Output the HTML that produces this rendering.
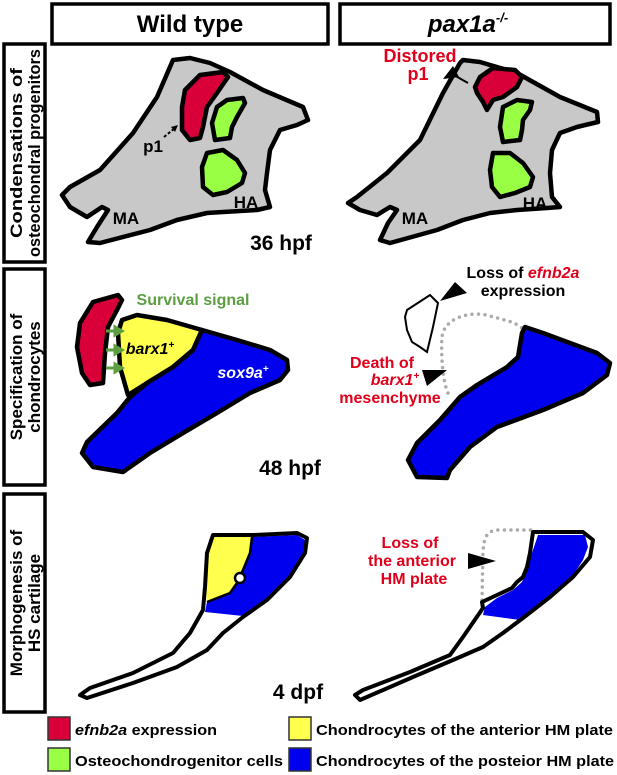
<!DOCTYPE html>
<html><head><meta charset="utf-8"><style>
html,body{margin:0;padding:0;background:#fff}
svg{display:block}
text{font-family:"Liberation Sans",Arial,sans-serif;font-weight:bold}
</style></head><body>
<svg width="617" height="775" viewBox="0 0 617 775" xmlns="http://www.w3.org/2000/svg">
<g fill="none" stroke="#000" stroke-width="3.5">
<rect x="52" y="4" width="276" height="40"/>
<rect x="340" y="4" width="270" height="40"/>
<rect x="4" y="44" width="41" height="218"/>
<rect x="4" y="269" width="41" height="216"/>
<rect x="4" y="494" width="41" height="218"/>
</g>
<text x="190" y="32" font-size="24" text-anchor="middle">Wild type</text>
<text x="468" y="32" font-size="24" text-anchor="middle" font-style="italic" font-weight="normal">pax1a<tspan font-size="13" dy="-10">-/-</tspan></text>
<text transform="translate(22,153) rotate(-90)" font-size="17" text-anchor="middle" textLength="170" lengthAdjust="spacingAndGlyphs">Condensations of</text>
<text transform="translate(40,153) rotate(-90)" font-size="17" text-anchor="middle" textLength="208" lengthAdjust="spacingAndGlyphs">osteochondral progenitors</text>
<text transform="translate(22,377) rotate(-90)" font-size="17" text-anchor="middle">Specification of</text>
<text transform="translate(40,377) rotate(-90)" font-size="17" text-anchor="middle">chondrocytes</text>
<text transform="translate(22,603) rotate(-90)" font-size="17" text-anchor="middle">Morphogenesis of</text>
<text transform="translate(40,603) rotate(-90)" font-size="17" text-anchor="middle">HS cartilage</text>

<!-- Row 1 WT -->
<g stroke="#000" stroke-width="4.5" stroke-linejoin="round">
<polygon fill="#c8c8c8" points="173,60 190,58 210,63 230,72 263,90 303,107 308,120 297,125 280,130 270,150 267,173 265,190 270,207 257,210 223,212 207,213 177,220 150,230 100,243 88,242 97,227 108,210 102,207 87,217 70,207 62,195 70,187 100,170 133,133 157,97"/>
<polygon fill="#d9003a" points="185,90 200,75 223,72 228,77 217,93 207,107 203,127 200,138 190,140 182,130 182,107"/>
<polygon fill="#99ff44" points="217,107 227,100 243,98 245,103 237,117 232,127 230,138 215,140 212,123"/>
<polygon fill="#99ff44" points="207,153 223,150 237,160 245,173 242,183 227,192 213,195 203,187 202,167"/>
</g>
<line x1="164" y1="137" x2="175" y2="128" stroke="#000" stroke-width="2" stroke-dasharray="3 2"/>
<polygon points="178,125 171,127 175,132" fill="#000"/>
<text x="153" y="152" font-size="17" text-anchor="middle" font-weight="normal">p1</text>
<text x="126" y="224" font-size="17" text-anchor="middle">MA</text>
<text x="246" y="208" font-size="17" text-anchor="middle">HA</text>
<text x="281" y="250" font-size="21" text-anchor="middle">36 hpf</text>

<!-- Row 1 mutant -->
<g stroke="#000" stroke-width="4.5" stroke-linejoin="round">
<polygon fill="#c8c8c8" points="463,60 480,62 517,73 560,97 597,112 598,122 577,127 560,133 552,150 550,173 552,197 560,207 547,208 517,210 490,213 463,220 437,230 390,243 380,240 388,223 397,210 390,207 377,215 360,210 348,203 357,197 387,173 420,140 443,93 460,63"/>
<polygon fill="#d9003a" points="480,77 493,68 515,70 522,77 517,87 503,97 493,100 487,110 483,102 477,93 475,87"/>
<polygon fill="#99ff44" points="503,107 517,100 532,102 530,110 523,120 522,130 520,140 503,142 500,127"/>
<polygon fill="#99ff44" points="493,153 510,153 523,163 533,177 530,187 515,193 500,197 492,187 490,170"/>
</g>
<polygon points="443,79 453,66 459,77" fill="#000"/>
<line x1="452" y1="74" x2="468" y2="83" stroke="#000" stroke-width="2"/>
<text x="420" y="62" font-size="18" text-anchor="middle" fill="#e0001b">Distored</text>
<text x="418" y="80" font-size="18" text-anchor="middle" fill="#e0001b">p1</text>
<text x="415" y="224" font-size="17" text-anchor="middle">MA</text>
<text x="535" y="209" font-size="17" text-anchor="middle">HA</text>

<!-- Row 2 WT -->
<g stroke="#000" stroke-width="4.5" stroke-linejoin="round">
<polygon fill="#d9003a" points="93,302 118,295 122,300 117,310 108,327 105,353 103,383 90,385 82,373 77,347 80,323"/>
<polygon fill="#ffff4d" points="122,320 137,315 167,320 202,330 193,350 173,367 147,383 128,395 120,367 118,333"/>
<polygon fill="#0000ee" points="202,330 237,340 270,350 287,360 288,370 280,380 250,393 217,413 183,433 150,453 123,472 93,467 82,453 87,442 117,413 130,397 147,383 173,367 193,350"/>
</g>
<g stroke="#5c9e41" stroke-width="3" fill="#5c9e41">
<line x1="106" y1="331" x2="116" y2="331"/><polygon points="115,327 122,331 115,335"/>
<line x1="106" y1="350" x2="116" y2="350"/><polygon points="115,346 122,350 115,354"/>
<line x1="106" y1="368" x2="116" y2="368"/><polygon points="115,364 122,368 115,372"/>
</g>
<text x="193" y="305" font-size="16" text-anchor="middle" fill="#5c9e41">Survival signal</text>
<text x="150" y="354" font-size="16" text-anchor="middle" font-style="italic">barx1<tspan font-size="10" dy="-6">+</tspan></text>
<text x="243" y="378" font-size="16" text-anchor="middle" font-style="italic" fill="#fff">sox9a<tspan font-size="10" dy="-6">+</tspan></text>
<text x="290" y="475" font-size="21" text-anchor="middle">48 hpf</text>

<!-- Row 2 mutant -->
<path d="M448,393 C442,380 441,350 442,337 C444,318 470,310 490,316 C505,320 515,322 522,328" fill="none" stroke="#aaa" stroke-width="3.5" stroke-linecap="round" stroke-dasharray="0 6.5"/>
<polygon fill="#0000ee" stroke="#000" stroke-width="4.5" stroke-linejoin="round" points="525,327 543,333 570,343 597,353 610,363 607,375 583,393 543,410 497,427 470,447 450,470 447,478 417,477 408,460 417,443 440,420 460,397 477,385 507,367 518,357 522,333"/>
<polygon fill="#fff" stroke="#000" stroke-width="2" points="407,310 430,295 438,303 433,327 427,352 420,347 412,342 407,330 405,317"/>
<polygon points="440,301 455,282 467,293" fill="#000"/>
<polygon points="422,370 447,370 427,386" fill="#000"/>
<text x="523" y="278" font-size="16" text-anchor="middle">Loss of <tspan fill="#e0001b" font-style="italic">efnb2a</tspan></text>
<text x="523" y="296" font-size="16" text-anchor="middle">expression</text>
<text x="382" y="368" font-size="16" text-anchor="middle" fill="#e0001b">Death of</text>
<text x="395" y="385" font-size="16" text-anchor="middle" fill="#e0001b" font-style="italic">barx1<tspan font-size="10" dy="-6">+</tspan></text>
<text x="390" y="403" font-size="16" text-anchor="middle" fill="#e0001b">mesenchyme</text>

<!-- Row 3 WT -->
<polygon fill="#ffff4d" points="213,537 252,537 250,553 243,570 237,583 230,593 207,602 205,587 207,553"/>
<polygon fill="#0000ee" points="252,537 297,535 305,540 303,553 290,577 267,600 243,616 205,612 207,602 230,593 237,583 243,570 250,553"/>
<polyline fill="none" stroke="#000" stroke-width="2.5" points="252,537 250,553 243,570 237,583 230,593 207,602"/>
<circle cx="240" cy="578" r="5" fill="#fff" stroke="#000" stroke-width="2.5"/>
<polygon fill="none" stroke="#000" stroke-width="4" stroke-linejoin="round" points="213,535 253,535 297,533 307,538 305,553 290,577 267,600 243,617 223,633 207,650 177,667 133,683 87,698 80,695 90,688 133,673 173,653 190,633 203,610 205,587 207,553"/>
<text x="298" y="699" font-size="21" text-anchor="middle">4 dpf</text>

<!-- Row 3 mutant -->
<path d="M482,600 L483,552 C484,535 488,530 500,530 L533,530" fill="none" stroke="#aaa" stroke-width="3.5" stroke-linecap="round" stroke-dasharray="0 6.5"/>
<polygon fill="#0000ee" points="538,535 585,535 588,547 583,560 570,580 543,600 520,620 483,615 485,607 497,598 513,590 522,582 527,570 532,553"/>
<polygon fill="none" stroke="#000" stroke-width="4" stroke-linejoin="round" points="533,532 583,532 593,540 590,557 573,577 550,597 523,618 503,633 483,647 453,660 413,677 360,700 355,695 363,690 410,672 450,655 463,637 483,608 482,602 497,595 512,588 517,582 523,577 527,567 530,553"/>
<polygon points="468,553 496,561 468,569" fill="#000"/>
<text x="410" y="548" font-size="16" text-anchor="middle" fill="#e0001b">Loss of</text>
<text x="412" y="566" font-size="16" text-anchor="middle" fill="#e0001b">the anterior</text>
<text x="414" y="584" font-size="16" text-anchor="middle" fill="#e0001b">HM plate</text>

<!-- Legend -->
<g stroke="#333" stroke-width="1.5">
<rect x="48" y="717" width="22" height="23" fill="#d9003a"/>
<rect x="48" y="748" width="22" height="23" fill="#99ff44"/>
<rect x="289" y="717" width="22" height="23" fill="#ffff4d"/>
<rect x="289" y="748" width="22" height="23" fill="#0000ee"/>
</g>
<text x="75" y="735" font-size="15" textLength="142" lengthAdjust="spacingAndGlyphs"><tspan font-style="italic">efnb2a</tspan> expression</text>
<text x="75" y="766" font-size="15" textLength="208" lengthAdjust="spacingAndGlyphs">Osteochondrogenitor cells</text>
<text x="316" y="735" font-size="15" textLength="297" lengthAdjust="spacingAndGlyphs">Chondrocytes of the anterior HM plate</text>
<text x="316" y="766" font-size="15" textLength="298" lengthAdjust="spacingAndGlyphs">Chondrocytes of the posteior HM plate</text>
</svg>
</body></html>
